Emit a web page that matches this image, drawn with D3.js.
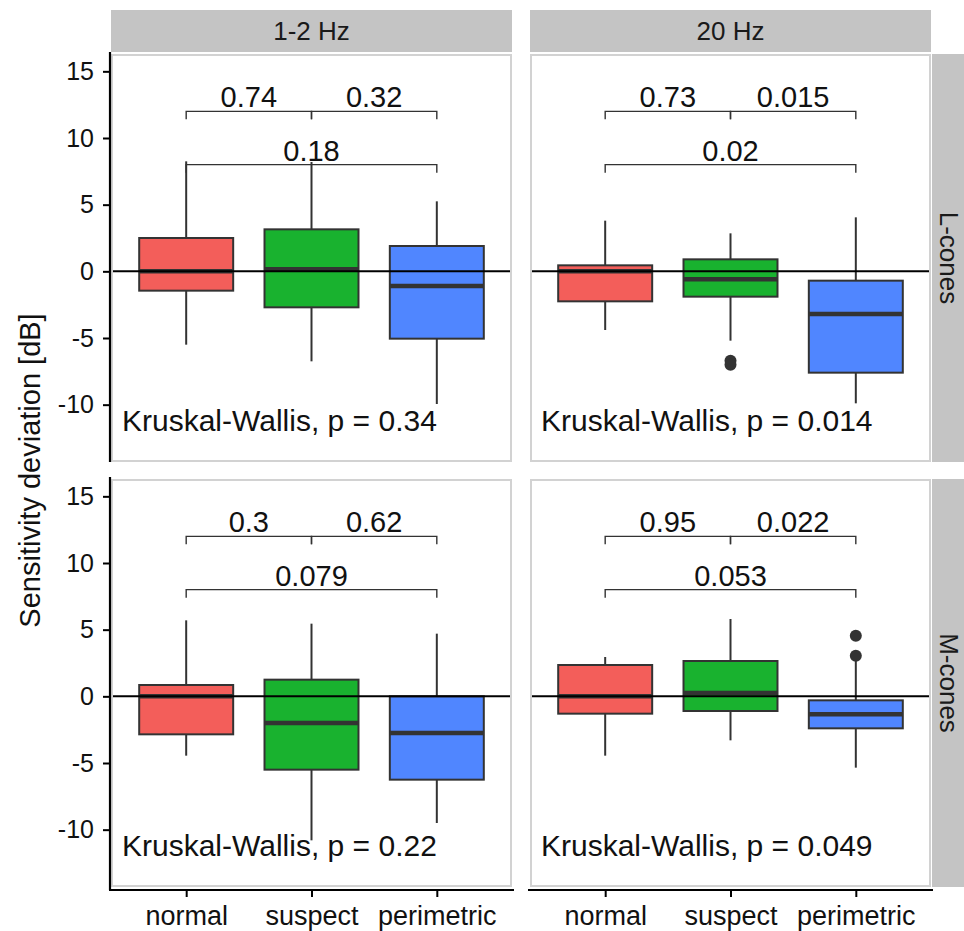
<!DOCTYPE html>
<html>
<head>
<meta charset="utf-8">
<script src="https://cdn.jsdelivr.net/npm/d3@7"></script>
<style>
  body { margin: 0; background: #fff; }
  svg text { font-family: "Liberation Sans", Arial, sans-serif; }
</style>
</head>
<body>
<script>
// categories and facets
const groups = ["normal", "suspect", "perimetric"];
const freqs = ["1-2 Hz", "20 Hz"];
const cones = ["L-cones", "M-cones"];
const fills = ["#F35E5A", "#19B22F", "#5086FF"];

// box statistics, one row per panel (L 1-2 Hz, L 20 Hz, M 1-2 Hz, M 20 Hz), one value per group
const whiskerLow  = [[-5.5, -6.75, -9.95], [-4.4, -5.2, -9.9], [-4.45, -10.8, -9.5], [-4.45, -3.3, -5.35]];
const q1          = [[-1.45, -2.7, -5.05], [-2.25, -1.9, -7.6], [-2.85, -5.5, -6.25], [-1.3, -1.1, -2.4]];
const median      = [[0, 0.15, -1.1], [0, -0.6, -3.2], [0, -2.0, -2.75], [0, 0.25, -1.35]];
const q3          = [[2.5, 3.15, 1.9], [0.45, 0.9, -0.7], [0.85, 1.25, 0], [2.35, 2.65, -0.3]];
const whiskerHigh = [[8.25, 8.2, 5.25], [3.8, 2.85, 4.05], [5.7, 5.45, 4.7], [2.95, 5.8, 2.8]];
// outliers: [group index, value]
const outliers = [[], [[1, -6.7], [1, -7.0]], [], [[2, 3.05], [2, 4.55]]];

// pairwise comparisons
const pairs = [[0, 1], [1, 2], [0, 2]];
const pairY = [12, 12, 8];
const pairP = [["0.74", "0.32", "0.18"], ["0.73", "0.015", "0.02"], ["0.3", "0.62", "0.079"], ["0.95", "0.022", "0.053"]];
const kwP = ["0.34", "0.014", "0.22", "0.049"];

const yTicks = [-10, -5, 0, 5, 10, 15];

// layout
const colX = [111, 530];
const rowY = [54, 479];
const panelW = 401, panelH = 408;

const svg = d3.select("body").append("svg")
    .attr("width", 964).attr("height", 931);

const x = d3.scalePoint().domain(groups).range([0, panelW]).padding(0.6);
const y = d3.scaleLinear().domain([-14.3, 16.3]).range([panelH, 0]);
const boxW = x.step() * 0.75;
const ink = "#333333";

// top strips
freqs.forEach((f, c) => {
  svg.append("rect")
      .attr("x", colX[c]).attr("y", 10)
      .attr("width", panelW).attr("height", 42)
      .attr("fill", "#c4c4c4");
  svg.append("text")
      .attr("x", colX[c] + panelW / 2).attr("y", 31)
      .attr("dy", "0.35em")
      .attr("text-anchor", "middle")
      .attr("font-size", 26)
      .attr("fill", "#1a1a1a")
      .text(f);
});

// right strips
cones.forEach((cn, r) => {
  svg.append("rect")
      .attr("x", 932).attr("y", rowY[r])
      .attr("width", 42).attr("height", panelH)
      .attr("fill", "#c4c4c4");
  svg.append("text")
      .attr("transform", `translate(949,${rowY[r] + panelH / 2}) rotate(90)`)
      .attr("dy", "0.35em")
      .attr("text-anchor", "middle")
      .attr("font-size", 26)
      .attr("fill", "#1a1a1a")
      .text(cn);
});

cones.forEach((cn, r) => {
  freqs.forEach((f, c) => {
    const p = r * 2 + c;
    const g = svg.append("g").attr("transform", `translate(${colX[c]},${rowY[r]})`);

    g.append("rect")
        .attr("x", 1).attr("y", 1)
        .attr("width", panelW - 2).attr("height", panelH - 2)
        .attr("fill", "#fff")
        .attr("stroke", "#d2d2d2")
        .attr("stroke-width", 2);

    groups.forEach((grp, i) => {
      const cx = x(grp);
      g.append("line")
          .attr("x1", cx).attr("x2", cx)
          .attr("y1", y(whiskerHigh[p][i])).attr("y2", y(q3[p][i]))
          .attr("stroke", ink).attr("stroke-width", 2);
      g.append("line")
          .attr("x1", cx).attr("x2", cx)
          .attr("y1", y(q1[p][i])).attr("y2", y(whiskerLow[p][i]))
          .attr("stroke", ink).attr("stroke-width", 2);
      g.append("rect")
          .attr("x", cx - boxW / 2).attr("y", y(q3[p][i]))
          .attr("width", boxW).attr("height", y(q1[p][i]) - y(q3[p][i]))
          .attr("fill", fills[i])
          .attr("stroke", ink).attr("stroke-width", 2);
      g.append("line")
          .attr("x1", cx - boxW / 2).attr("x2", cx + boxW / 2)
          .attr("y1", y(median[p][i])).attr("y2", y(median[p][i]))
          .attr("stroke", ink).attr("stroke-width", 4.5);
    });

    g.selectAll("circle.out")
        .data(outliers[p])
        .enter().append("circle")
        .attr("cx", d => x(groups[d[0]]))
        .attr("cy", d => y(d[1]))
        .attr("r", 6)
        .attr("fill", ink);

    // zero reference line
    g.append("line")
        .attr("x1", 2).attr("x2", panelW - 2)
        .attr("y1", y(0)).attr("y2", y(0))
        .attr("stroke", "#000").attr("stroke-width", 2);

    // comparison brackets
    pairs.forEach((pr, k) => {
      const xa = x(groups[pr[0]]), xb = x(groups[pr[1]]);
      const yb = y(pairY[k]), yt = y(pairY[k] - 0.6);
      g.append("path")
          .attr("d", `M${xa},${yt}V${yb}H${xb}V${yt}`)
          .attr("fill", "none")
          .attr("stroke", ink).attr("stroke-width", 1.4);
      g.append("text")
          .attr("x", (xa + xb) / 2).attr("y", yb - 4)
          .attr("text-anchor", "middle")
          .attr("font-size", 29)
          .attr("fill", "#111")
          .text(pairP[p][k]);
    });

    g.append("text")
        .attr("x", 11).attr("y", y(-12))
        .attr("font-size", 30)
        .attr("fill", "#111")
        .text("Kruskal-Wallis, p = " + kwP[p]);
  });

  // left y axis for the row
  const ya = svg.append("g")
      .attr("transform", `translate(110,${rowY[r]})`)
      .call(d3.axisLeft(y).tickValues(yTicks).tickSize(7).tickSizeOuter(0).tickPadding(9)
          .tickFormat(d => String(d)));
  ya.select(".domain").attr("stroke", "#000").attr("stroke-width", 2.2)
      .attr("d", `M0,${r === 1 ? panelH + 3 : panelH}V-2`);
  ya.selectAll(".tick line").attr("stroke", "#000").attr("stroke-width", 2);
  ya.selectAll(".tick text").attr("font-size", 25).attr("fill", "#111")
      .attr("font-family", "Liberation Sans, Arial, sans-serif");
});

// bottom x axes
freqs.forEach((f, c) => {
  const xa = svg.append("g")
      .attr("transform", `translate(${colX[c]},${rowY[1] + panelH + 3})`)
      .call(d3.axisBottom(x).tickSize(7).tickSizeOuter(0).tickPadding(9));
  xa.select(".domain").attr("stroke", "#000").attr("stroke-width", 2.2)
      .attr("d", `M-2,0H${panelW + 2}`);
  xa.selectAll(".tick line").attr("stroke", "#000").attr("stroke-width", 2);
  xa.selectAll(".tick text").attr("font-size", 27).attr("fill", "#111")
      .attr("font-family", "Liberation Sans, Arial, sans-serif");
});

// y axis title
svg.append("text")
    .attr("transform", `translate(30,${(rowY[0] + rowY[1] + panelH) / 2}) rotate(-90)`)
    .attr("dy", "0.35em")
    .attr("text-anchor", "middle")
    .attr("font-size", 29)
    .attr("fill", "#111")
    .text("Sensitivity deviation [dB]");
</script>
</body>
</html>
